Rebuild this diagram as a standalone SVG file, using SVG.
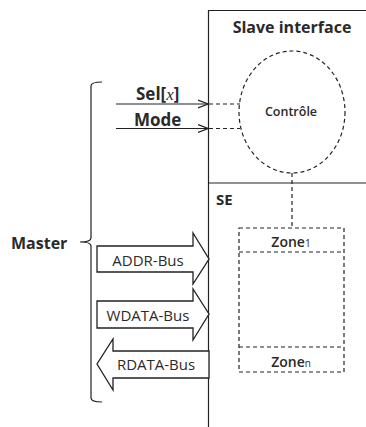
<svg xmlns="http://www.w3.org/2000/svg" width="366" height="427" viewBox="0 0 366 427">
<style>
text{font-family:"Open Sans","Liberation Sans",sans-serif;fill:#2a2a2a}
.b{font-weight:bold}
.ln{fill:none;stroke:#222;stroke-width:1.2}
.dash{fill:none;stroke:#222;stroke-width:1.2;stroke-dasharray:4 3}
.blk{fill:#fff;stroke:#222;stroke-width:1.3}
</style>
<defs>
<marker id="open" viewBox="0 0 10 10" refX="10" refY="5" markerWidth="10" markerHeight="10" markerUnits="userSpaceOnUse" orient="auto">
<path d="M0,1 L10,5 L0,9" fill="none" stroke="#222" stroke-width="1.2"/>
</marker>
</defs>
<rect width="366" height="427" fill="#fff"/>
<g id="slave">
<path class="ln" d="M367,10.5 H208.5 V427"/>
<path class="ln" d="M208.5,183 H367"/>
<text x="292" y="33" class="b" font-size="16" text-anchor="middle">Slave interface</text>
</g>
<g id="controle">
<ellipse class="dash" cx="292" cy="112" rx="53" ry="61"/>
<text x="291" y="116" font-size="12.5" font-weight="600" text-anchor="middle">Contrôle</text>
</g>
<g id="se">
<text x="216" y="205" class="b" font-size="15">SE</text>
</g>
<g id="zones">
<rect class="dash" x="239" y="228" width="105" height="144"/>
<path class="dash" d="M239,252 H344 M239,347 H344"/>
<text x="291" y="247" font-size="14" font-weight="600" text-anchor="middle">Zone<tspan font-size="10" font-weight="normal">1</tspan></text>
<text x="291" y="367" font-size="14" font-weight="600" text-anchor="middle">Zone<tspan font-size="10" font-weight="normal">n</tspan></text>
</g>
<g id="master">
<path class="ln" d="M102,82 Q91,82 91,86 V238 Q91,242 80,242 Q91,242 91,246 V398 Q91,402 102,402" stroke-width="1.4"/>
<text x="11" y="249" class="b" font-size="16">Master</text>
</g>
<g id="addr">
<path class="blk" d="M97,246 H193 V233 L209,259 L193,284 V272 H97 Z"/>
<text x="148" y="266" font-size="15" text-anchor="middle">ADDR-Bus</text>
</g>
<g id="wdata">
<path class="blk" d="M97,301 H193 V289 L209,314 L193,340 V328 H97 Z"/>
<text x="148" y="321" font-size="15" text-anchor="middle">WDATA-Bus</text>
</g>
<g id="rdata">
<path class="blk" d="M209,351 H113 V339 L97,364 L113,390 V378 H209 Z"/>
<text x="156" y="370" font-size="15" text-anchor="middle">RDATA-Bus</text>
</g>
<g id="labels">
<text x="136" y="100" class="b" font-size="17">Sel[<tspan font-family="Liberation Serif,serif" font-style="italic" font-weight="normal">x</tspan>]</text>
<text x="134" y="126" class="b" font-size="17">Mode</text>
</g>
<g id="connectors">
<path class="ln" d="M116,104 H208" marker-end="url(#open)"/>
<path class="ln" d="M116,128.5 H208" marker-end="url(#open)"/>
<path class="dash" d="M209,104 H240 M209,128.5 H240"/>
<path class="dash" d="M292,173 V228"/>
</g>
</svg>
